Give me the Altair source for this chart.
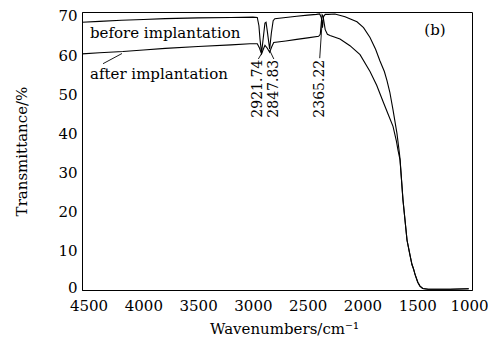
import altair as alt
import pandas as pd

# ---- data ----
before_w = [4560, 4400, 4200, 4000, 3800, 3500, 3200, 3000, 2960, 2945, 2935, 2921, 2905, 2890, 2880,
            2868, 2847, 2832, 2815, 2800, 2700, 2600, 2500, 2420, 2390, 2375, 2365, 2355, 2340, 2314,
            2251, 2159, 2050, 1990, 1931, 1880, 1840, 1800, 1776, 1750, 1721, 1685, 1665, 1657, 1630,
            1593, 1566, 1548, 1535, 1520, 1495, 1475, 1450, 1400, 1200, 1030]
before_v = [68.4, 68.6, 68.9, 69.1, 69.3, 69.5, 69.6, 69.7, 69.6, 67.5, 64.0, 60.5, 64.5, 68.2, 68.4,
            66.0, 61.5, 65.5, 68.8, 69.3, 69.6, 69.9, 70.2, 70.4, 70.5, 69.5, 67.0, 69.8, 70.4, 70.4,
            70.5, 69.8, 68.5, 67.0, 64.5, 61.5, 58.5, 55.8, 53.5, 50.5, 46.0, 40.0, 35.5, 33.5, 23.0,
            12.7, 8.9, 6.5, 5.5, 4.0, 2.0, 1.0, 0.4, 0.2, 0.2, 0.3]

after_w = [4560, 4400, 4186, 4000, 3800, 3500, 3200, 3027, 2960, 2940, 2921, 2905, 2890, 2870, 2847,
           2830, 2810, 2700, 2600, 2500, 2400, 2385, 2375, 2368, 2360, 2340, 2320, 2296, 2205, 2114,
           2022, 1931, 1870, 1813, 1760, 1721, 1690, 1676, 1657, 1630, 1593, 1566, 1548, 1535, 1520,
           1495, 1475, 1450, 1400, 1200, 1030]
after_v = [60.3, 60.6, 60.9, 61.3, 61.7, 62.2, 62.6, 62.9, 62.9, 61.8, 60.3, 61.5, 62.5, 61.8, 60.7,
           62.0, 63.2, 63.6, 64.0, 64.4, 64.8, 65.3, 68.5, 70.3, 70.0, 66.5, 65.3, 65.0, 64.1, 62.4,
           60.1, 55.8, 52.3, 48.2, 44.5, 41.8, 38.0, 35.8, 33.2, 23.0, 12.7, 8.9, 6.5, 5.5, 4.0,
           2.0, 1.0, 0.4, 0.2, 0.2, 0.3]

series_names = ["before implantation", "after implantation"]

peak_labels = ["2921.74", "2847.83", "2365.22"]
peak_text_w = [2953, 2807, 2388]
peak_text_v = [58.8, 58.8, 58.8]
lead_w1 = [2921, 2847, 2367, 4368]
lead_v1 = [60.4, 61.2, 69.0, 57.8]
lead_w2 = [2950, 2809, 2390, 4195]
lead_v2 = [59.0, 59.0, 59.2, 60.4]

note_texts = ["before implantation", "after implantation"]
note_w = [4487, 4487]
note_v = [64.4, 54.0]

panel_tag = ["(b)"]
panel_w = [1338]
panel_v = [66.4]

x_ticks = [4500, 4000, 3500, 3000, 2500, 2000, 1500, 1000]
y_ticks = [0, 10, 20, 30, 40, 50, 60, 70]

FONT = "DejaVu Serif"

curves = pd.concat([
    pd.DataFrame({"w": before_w, "v": before_v, "s": series_names[0]}),
    pd.DataFrame({"w": after_w, "v": after_v, "s": series_names[1]}),
])
peaks = pd.DataFrame({"w": peak_text_w, "v": peak_text_v, "t": peak_labels})
leads = pd.DataFrame({"w": lead_w1, "v": lead_v1, "w2": lead_w2, "v2": lead_v2})
notes = pd.DataFrame({"w": note_w, "v": note_v, "t": note_texts})
tag = pd.DataFrame({"w": panel_w, "v": panel_v, "t": panel_tag})

xs = alt.Scale(domain=[1000, 4560], reverse=True, nice=False, zero=False)
ys = alt.Scale(domain=[0, 71], nice=False, zero=False)

xaxis = alt.Axis(values=x_ticks, title="Wavenumbers/cm\u207b\u00b9", grid=False, ticks=False,
                 labelPadding=8, titleX=202, titleY=38, titleBaseline="middle",
                 titleAlign="center", format="d", labelOverlap=False, labelFlush=False,
                 labelBound=False,
                 labelOffset={"condition": {"test": "datum.value == 1000", "value": -3}, "value": 0})
yaxis = alt.Axis(values=y_ticks, title="Transmittance/%", grid=False, ticks=False,
                 labelPadding=5, titleX=-61, titleY=139, titleBaseline="middle",
                 titleAlign="center", titleAngle=270, labelOverlap=False, labelFlush=False,
                 labelBound=False,
                 labelOffset={"condition": {"test": "datum.value == 0", "value": -3}, "value": 0})

X = lambda: alt.X("w:Q", scale=xs, axis=xaxis)
Y = lambda: alt.Y("v:Q", scale=ys, axis=yaxis)

lines = alt.Chart(curves).mark_line(color="black", strokeWidth=1.1).encode(
    x=X(),
    y=Y(),
    detail="s:N",
    order=alt.Order("w:Q", sort="descending"),
)

rules = alt.Chart(leads).mark_rule(color="black", strokeWidth=0.9).encode(
    x=X(), y=Y(), x2="w2:Q", y2="v2:Q"
)

peak_text = alt.Chart(peaks).mark_text(
    font=FONT, fontSize=14, angle=270, align="right", baseline="middle", color="black"
).encode(x=X(), y=Y(), text="t:N")

note_text = alt.Chart(notes).mark_text(
    font=FONT, fontSize=15, align="left", baseline="alphabetic", color="black"
).encode(x=X(), y=Y(), text="t:N")

tag_text = alt.Chart(tag).mark_text(
    font=FONT, fontSize=15, align="center", baseline="middle", color="black"
).encode(x=X(), y=Y(), text="t:N")

chart = alt.layer(lines, rules, peak_text, note_text, tag_text).properties(
    width=390, height=278,
    autosize=alt.AutoSizeParams(type="none"),
    padding={"left": 74, "top": 4, "right": 16, "bottom": 47},
    background="white",
).configure_view(stroke="black", strokeWidth=1).configure_axis(
    labelFont=FONT, titleFont=FONT, labelFontSize=15, titleFontSize=15,
    labelColor="black", titleColor="black", domainColor="black",
    titleFontWeight="normal",
)

chart.save("out.html", embed_options={"renderer": "svg", "actions": False})
